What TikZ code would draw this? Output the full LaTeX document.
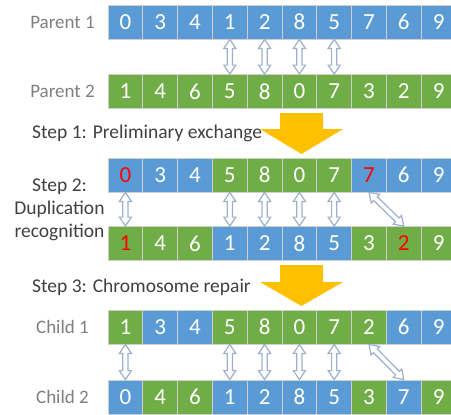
\documentclass[tikz,border=0pt]{standalone}
\usepackage{fontspec}
\setmainfont{Carlito}
\usetikzlibrary{calc}
\definecolor{cblue}{HTML}{5B9BD5}
\definecolor{cgreen}{HTML}{70AD47}
\definecolor{cgold}{HTML}{FFC000}
\definecolor{cellrule}{HTML}{CFCFCF}
\definecolor{swapedge}{HTML}{9FB0CC}
\definecolor{namegray}{HTML}{7F7F7F}
\definecolor{stepgray}{HTML}{404040}
\definecolor{dupred}{HTML}{FF0000}
\tikzset{
  cell/.style={draw=cellrule, line width=0.8pt, minimum width=34.8pt, minimum height=34pt,
    inner sep=0pt, font=\fontsize{23}{25}\selectfont},
  rowname/.style={text=namegray, font=\fontsize{19}{23}\selectfont},
  steptext/.style={text=stepgray, font=\fontsize{19.5}{23}\selectfont, align=center},
  stepbig/.style={fill=cgold},
  % hollow double-headed arrow between two cells
  swap/.style={draw=swapedge, fill=white, line width=1.2pt, line join=miter,
    to path={let \p1=(\tikztostart), \p2=(\tikztotarget),
      \n1={atan2(\y2-\y1,\x2-\x1)}, \n2={veclen(\x2-\x1,\y2-\y1)}, \n3={\n2-9pt} in
      ([shift={(\p1)},rotate=\n1]0pt,0pt) -- ([shift={(\p1)},rotate=\n1]9pt,6pt)
      -- ([shift={(\p1)},rotate=\n1]9pt,2.6pt) -- ([shift={(\p1)},rotate=\n1]\n3,2.6pt)
      -- ([shift={(\p1)},rotate=\n1]\n3,6pt) -- ([shift={(\p1)},rotate=\n1]\n2,0pt)
      -- ([shift={(\p1)},rotate=\n1]\n3,-6pt) -- ([shift={(\p1)},rotate=\n1]\n3,-2.6pt)
      -- ([shift={(\p1)},rotate=\n1]9pt,-2.6pt) -- ([shift={(\p1)},rotate=\n1]9pt,-6pt) -- cycle}},
}
\begin{document}
\begin{tikzpicture}[x=1pt,y=-1pt]
\useasboundingbox (0,0) rectangle (451,415);
% parents
\foreach \d/\c/\t [count=\i from 0] in {0/cblue/white,3/cblue/white,4/cblue/white,1/cblue/white,2/cblue/white,8/cblue/white,5/cblue/white,7/cblue/white,6/cblue/white,9/cblue/white}
  \node[cell, fill=\c, text=\t] (pa\i) at ({125.4+34.8*\i},22) {\d};
\foreach \d/\c/\t [count=\i from 0] in {1/cgreen/white,4/cgreen/white,6/cgreen/white,5/cgreen/white,8/cgreen/white,0/cgreen/white,7/cgreen/white,3/cgreen/white,2/cgreen/white,9/cgreen/white}
  \node[cell, fill=\c, text=\t] (pb\i) at ({125.4+34.8*\i},91.5) {\d};
% after exchange
\foreach \d/\c/\t [count=\i from 0] in {0/cblue/dupred,3/cblue/white,4/cblue/white,5/cgreen/white,8/cgreen/white,0/cgreen/white,7/cgreen/white,7/cblue/dupred,6/cblue/white,9/cblue/white}
  \node[cell, fill=\c, text=\t] (xa\i) at ({125.4+34.8*\i},175) {\d};
\foreach \d/\c/\t [count=\i from 0] in {1/cgreen/dupred,4/cgreen/white,6/cgreen/white,1/cblue/white,2/cblue/white,8/cblue/white,5/cblue/white,3/cgreen/white,2/cgreen/dupred,9/cgreen/white}
  \node[cell, fill=\c, text=\t] (xb\i) at ({125.4+34.8*\i},243.5) {\d};
% children
\foreach \d/\c/\t [count=\i from 0] in {1/cgreen/white,3/cblue/white,4/cblue/white,5/cgreen/white,8/cgreen/white,0/cgreen/white,7/cgreen/white,2/cgreen/white,6/cblue/white,9/cblue/white}
  \node[cell, fill=\c, text=\t] (ca\i) at ({125.4+34.8*\i},327) {\d};
\foreach \d/\c/\t [count=\i from 0] in {0/cblue/white,4/cgreen/white,6/cgreen/white,1/cblue/white,2/cblue/white,8/cblue/white,5/cblue/white,3/cgreen/white,7/cblue/white,9/cgreen/white}
  \node[cell, fill=\c, text=\t] (cb\i) at ({125.4+34.8*\i},397) {\d};
% big step arrows
\fill[stepbig] (280,113) -- (323,113) -- (323,129) -- (343,129) -- (301.5,154) -- (260,129) -- (280,129) -- cycle;
\fill[stepbig] (280,265) -- (323,265) -- (323,282) -- (343,282) -- (301.5,306) -- (260,282) -- (280,282) -- cycle;
% row names and steps
\node[rowname] (pname1) at (62.5,22) {Parent 1};
\node[rowname] (pname2) at (62.5,91.5) {Parent 2};
\node[rowname] (cname1) at (62.5,327) {Child 1};
\node[rowname] (cname2) at (62.5,397) {Child 2};
\node[steptext, anchor=west, inner sep=0pt] (step1) at (32,133) {Step 1: Preliminary exchange};
\node[steptext] (step2) at (59.5,210) {Step 2:\\Duplication\\recognition};
\node[steptext, anchor=west, inner sep=0pt] (step3) at (32,287) {Step 3: Chromosome repair};
% exchanged genes
\foreach \i in {3,...,6}
  \draw[swap] (pa\i.south) to (pb\i.north);
\foreach \i in {0,3,4,5,6}{
  \draw[swap] (xa\i.south) to (xb\i.north);
  \draw[swap] (ca\i.south) to (cb\i.north);
}
\draw[swap] (xa7.south) to (xb8.north);
\draw[swap] (ca7.south) to (cb8.north);
\end{tikzpicture}
\end{document}
